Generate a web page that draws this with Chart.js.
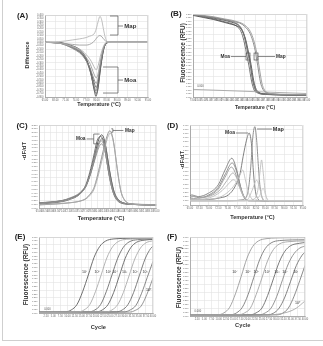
<!DOCTYPE html>
<html>
<head>
<meta charset="utf-8">
<script src="https://cdn.jsdelivr.net/npm/chart.js@4.4.1/dist/chart.umd.min.js"></script>
<style>
  body { margin: 0; background: #fff; }
  #fig { position: relative; width: 323px; height: 346px; overflow: hidden; }
  #fig canvas { position: absolute; }
  .frame { position: absolute; left: 2px; top: -1px; width: 330px; height: 341px;
           border-left: 1px solid #cfcfcf; border-bottom: 1px solid #cfcfcf; }
</style>
</head>
<body>
<div id="fig">
  <div class="frame"></div>
  <canvas id="pA" width="161" height="114" style="left:0;top:0"></canvas>
  <canvas id="pB" width="162" height="114" style="left:161px;top:0"></canvas>
  <canvas id="pC" width="161" height="116" style="left:0;top:114px"></canvas>
  <canvas id="pD" width="162" height="116" style="left:161px;top:114px"></canvas>
  <canvas id="pE" width="161" height="116" style="left:0;top:230px"></canvas>
  <canvas id="pF" width="162" height="116" style="left:161px;top:230px"></canvas>
</div>
<script>
const FONT = '"Liberation Sans", Arial, sans-serif';

// ---- (A) difference plot, [temperature, difference]
const aTempTicks = [65, 68, 71, 74, 77, 80, 83, 86, 89, 92, 95];
const aDiffTicks = [-0.8, -0.75, -0.7, -0.65, -0.6, -0.55, -0.5, -0.45, -0.4, -0.35, -0.3, -0.25, -0.2,
  -0.15, -0.1, -0.05, 0, 0.05, 0.1, 0.15, 0.2, 0.25, 0.3, 0.35, 0.4];
const aMoa1 = [[65,0],[69,0],[71,-0.02],[73,-0.05],[75,-0.1],[76,-0.15],[77,-0.23],[78,-0.38],[78.5,-0.48],[79,-0.62],[79.5,-0.74],[79.8,-0.79],[80.2,-0.74],[80.6,-0.62],[81,-0.45],[81.5,-0.27],[82,-0.12],[82.5,-0.04],[83,-0.01],[84,0],[95,0]];
const aMoa2 = [[65,0],[69,-0.005],[71,-0.03],[73,-0.07],[75,-0.12],[76,-0.17],[77,-0.25],[78,-0.39],[78.5,-0.49],[79,-0.61],[79.5,-0.71],[79.9,-0.75],[80.3,-0.7],[80.7,-0.57],[81.1,-0.4],[81.6,-0.23],[82.1,-0.1],[82.6,-0.03],[83.2,0],[95,0]];
const aMoa3 = [[65,0],[69,-0.01],[71,-0.04],[73,-0.08],[75,-0.14],[76,-0.19],[77,-0.27],[78,-0.4],[78.5,-0.49],[79,-0.59],[79.5,-0.67],[79.8,-0.71],[80.2,-0.67],[80.6,-0.55],[81,-0.39],[81.5,-0.22],[82,-0.1],[82.5,-0.03],[83,0],[95,0]];
const aMoa4 = [[65,0],[69,-0.01],[71,-0.03],[73,-0.07],[75,-0.13],[76,-0.18],[77,-0.26],[78,-0.37],[78.5,-0.45],[79,-0.54],[79.5,-0.62],[79.9,-0.66],[80.3,-0.62],[80.7,-0.51],[81.1,-0.36],[81.6,-0.21],[82.1,-0.09],[82.6,-0.03],[83.2,0],[95,0]];
const aMoa5 = [[65,0],[69,-0.01],[71,-0.04],[73,-0.09],[75,-0.15],[76,-0.2],[77,-0.27],[78,-0.36],[78.5,-0.43],[79,-0.5],[79.5,-0.57],[79.9,-0.6],[80.3,-0.56],[80.7,-0.46],[81.1,-0.33],[81.6,-0.19],[82.1,-0.08],[82.6,-0.02],[83.2,0],[95,0]];
const aMoa6 = [[65,0],[69,-0.01],[71,-0.03],[73,-0.07],[75,-0.12],[76,-0.16],[77,-0.22],[78,-0.3],[78.5,-0.36],[79,-0.43],[79.5,-0.49],[79.9,-0.52],[80.3,-0.49],[80.7,-0.4],[81.1,-0.29],[81.6,-0.16],[82.1,-0.07],[82.6,-0.02],[83.2,0],[95,0]];
const aMoa7 = [[65,0],[69,-0.01],[71,-0.03],[73,-0.06],[75,-0.1],[76,-0.13],[77,-0.18],[78,-0.24],[78.5,-0.28],[79,-0.33],[79.5,-0.38],[79.9,-0.4],[80.3,-0.37],[80.7,-0.3],[81.1,-0.21],[81.6,-0.12],[82.1,-0.05],[82.6,-0.01],[83.2,0],[95,0]];
const aMap1 = [[65,0],[67,0.005],[69,0.01],[71,0.02],[73,0.035],[75,0.05],[77,0.07],[78,0.09],[79,0.11],[79.5,0.14],[80,0.21],[80.5,0.31],[81,0.38],[81.5,0.33],[82,0.2],[82.5,0.08],[83,0.02],[84,0],[95,0]];
const aMap2 = [[65,0],[69,-0.01],[73,-0.03],[75,-0.04],[77,-0.04],[78,-0.03],[79,0],[79.7,0.04],[80.3,0.08],[81,0.1],[81.6,0.08],[82.2,0.04],[83,0.01],[84,0],[95,0]];

// ---- (B) melt curves, [temperature, RFU]
const bTempTicks = [73, 74, 75, 76, 77, 78, 79, 80, 81, 82, 83, 84, 85, 86, 87, 88, 89, 90, 91, 92, 93, 94, 95];
const bRfuTicks = [0, 0.05, 0.1, 0.15, 0.2, 0.25, 0.3, 0.35, 0.4, 0.45, 0.5, 0.55, 0.6, 0.65, 0.7, 0.75,
  0.8, 0.85, 0.9, 0.95, 1, 1.05, 1.1, 1.15, 1.2];
const bMoa1 = [[73,1.19],[75,1.17],[77,1.14],[79,1.11],[80.5,1.08],[81.5,1.05],[82,1.02],[82.5,0.96],[83,0.85],[83.5,0.67],[84,0.49],[84.5,0.25],[85,0.11],[85.5,0.07],[86,0.05],[87,0.04],[90,0.03],[95,0.025]];
const bMoa2 = [[73,1.19],[75,1.16],[77,1.13],[79,1.09],[80.5,1.06],[81.3,1.03],[81.8,1],[82.3,0.94],[82.8,0.82],[83.3,0.64],[83.8,0.45],[84.3,0.23],[84.8,0.1],[85.3,0.065],[86,0.045],[87,0.04],[90,0.03],[95,0.025]];
const bMoa3 = [[73,1.18],[75,1.15],[77,1.12],[79,1.08],[80.5,1.05],[81.7,1.02],[82.2,0.99],[82.7,0.93],[83.2,0.82],[83.7,0.65],[84.2,0.47],[84.7,0.24],[85.2,0.11],[85.7,0.07],[86.2,0.05],[87,0.045],[90,0.035],[95,0.03]];
const bMoa4 = [[73,1.19],[75,1.17],[77,1.15],[79,1.12],[80.5,1.09],[81.5,1.06],[82.1,1.02],[82.6,0.95],[83.1,0.83],[83.6,0.65],[84.1,0.46],[84.6,0.23],[85.1,0.1],[85.6,0.06],[86.2,0.045],[90,0.03],[95,0.025]];
const bMap1 = [[73,1.19],[75,1.17],[77,1.15],[79,1.12],[80.5,1.1],[81.5,1.08],[82,1.07],[82.5,1.05],[83,1.02],[83.5,0.98],[84,0.92],[84.5,0.82],[85,0.67],[85.5,0.45],[86,0.22],[86.5,0.11],[87,0.07],[87.5,0.05],[88,0.045],[90,0.035],[95,0.03]];
const bMap2 = [[73,1.19],[75,1.18],[77,1.16],[79,1.13],[80.5,1.11],[81.5,1.09],[82.3,1.07],[82.8,1.05],[83.3,1.02],[83.8,0.98],[84.3,0.91],[84.8,0.8],[85.3,0.64],[85.8,0.42],[86.3,0.2],[86.8,0.1],[87.3,0.065],[88,0.05],[90,0.04],[95,0.035]];
const bLow = [[73,0.11],[95,0.05]];

// ---- (C) derivative melt peaks, [temperature, -dF/dT]
const cTempTicks = [65, 66.5, 68, 69.5, 71, 72.5, 74, 75.5, 77, 78.5, 80, 81.5, 83, 84.5, 86, 87.5, 89, 90.5, 92, 93.5, 95];
const cRateTicks = [0, 0.1, 0.2, 0.3, 0.4, 0.5, 0.6, 0.7, 0.8, 0.9, 1, 1.1, 1.2, 1.3, 1.4, 1.5, 1.6, 1.7, 1.8, 1.9, 2, 2.1, 2.2];
const cMoa1 = [[65,0.12],[68,0.15],[71,0.19],[73,0.25],[75,0.34],[76,0.43],[77,0.58],[78,0.88],[79,1.28],[80,1.72],[80.5,1.87],[81,1.94],[81.5,1.88],[82,1.68],[82.5,1.35],[83,1.02],[83.5,0.74],[84,0.5],[84.5,0.34],[85,0.24],[86,0.16],[87,0.12],[90,0.09],[95,0.08]];
const cMoa2 = [[65,0.1],[68,0.13],[71,0.17],[73,0.23],[75,0.33],[76,0.44],[77,0.62],[78,0.95],[79,1.38],[79.8,1.76],[80.3,1.87],[80.8,1.9],[81.3,1.82],[81.8,1.6],[82.3,1.28],[82.8,0.95],[83.3,0.68],[83.8,0.47],[84.3,0.32],[85,0.2],[86,0.13],[88,0.1],[95,0.08]];
const cMoa3 = [[65,0.14],[68,0.16],[71,0.2],[73,0.26],[75,0.35],[76,0.44],[77,0.57],[78,0.84],[79,1.2],[80,1.62],[80.7,1.8],[81.2,1.84],[81.7,1.76],[82.2,1.55],[82.7,1.22],[83.2,0.9],[83.7,0.64],[84.2,0.44],[84.8,0.3],[85.5,0.2],[86.5,0.14],[88,0.11],[95,0.09]];
const cMoa4 = [[65,0.11],[68,0.14],[71,0.18],[73,0.24],[75,0.33],[76,0.42],[77,0.58],[78,0.86],[79,1.24],[80,1.6],[80.5,1.72],[80.9,1.78],[81.4,1.72],[81.9,1.52],[82.4,1.2],[82.9,0.9],[83.4,0.64],[83.9,0.44],[84.5,0.3],[85.2,0.2],[86.2,0.14],[88,0.1],[95,0.08]];
const cMoa5 = [[65,0.13],[68,0.16],[71,0.2],[73,0.27],[75,0.37],[76,0.46],[77,0.6],[78,0.85],[79,1.18],[80,1.52],[80.5,1.65],[81,1.7],[81.5,1.63],[82,1.45],[82.5,1.16],[83,0.86],[83.5,0.62],[84,0.43],[84.6,0.29],[85.3,0.2],[86.3,0.14],[88,0.1],[95,0.09]];
const cMap1 = [[65,0.08],[68,0.1],[71,0.12],[73,0.14],[75,0.17],[76,0.2],[77,0.25],[78,0.36],[79,0.52],[79.5,0.68],[80,0.88],[80.5,1.1],[81,1.33],[81.5,1.55],[82,1.76],[82.5,1.93],[83,2.04],[83.5,2],[84,1.8],[84.5,1.45],[85,1.05],[85.5,0.7],[86,0.42],[87,0.2],[88,0.12],[90,0.09],[95,0.07]];
const cMap2 = [[65,0.09],[70,0.11],[73,0.14],[75,0.17],[77,0.24],[78,0.33],[79,0.48],[80,0.8],[81,1.22],[82,1.65],[82.6,1.88],[83.2,1.98],[83.7,1.9],[84.2,1.65],[84.7,1.28],[85.2,0.9],[85.8,0.52],[86.5,0.28],[87.5,0.14],[89,0.1],[95,0.08]];

// ---- (D) derivative melt peaks, second set
const dTempTicks = [65, 67.5, 70, 72.5, 75, 77.5, 80, 82.5, 85, 87.5, 90, 92.5, 95];
const dRateTicks = [0, 0.1, 0.2, 0.3, 0.4, 0.5, 0.6, 0.7, 0.8, 0.9, 1, 1.1, 1.2, 1.3, 1.4, 1.5, 1.6, 1.7, 1.8, 1.9];
const dMoaTall = [[65,0.12],[70,0.13],[73,0.17],[75.2,0.24],[76.9,0.43],[78.3,0.75],[79.1,1.15],[80,1.54],[80.7,1.71],[81.4,1.38],[81.8,0.83],[82.2,0.43],[82.9,0.16],[84,0.1],[95,0.1]];
const dMap = [[65,0.1],[76,0.1],[78.5,0.12],[80,0.2],[80.6,0.43],[81.2,0.99],[81.6,1.54],[82.2,1.86],[82.7,1.54],[83.1,0.99],[83.6,0.43],[84.2,0.16],[85,0.1],[95,0.1]];
const dBroad1 = [[65,0.22],[65.5,0.24],[66.5,0.21],[67.2,0.2],[69.9,0.28],[72.5,0.48],[74.3,0.83],[76.1,1.11],[77.4,0.83],[78.3,0.48],[79.1,0.24],[80,0.12],[81,0.1],[95,0.1]];
const dBroad2 = [[65,0.18],[66,0.2],[67.5,0.17],[70,0.24],[72.5,0.42],[74.4,0.74],[76.2,1],[77.5,0.76],[78.4,0.44],[79.2,0.22],[80.1,0.12],[81,0.1],[95,0.1]];
const dBroad3 = [[65,0.15],[67,0.16],[70,0.22],[72.5,0.38],[74.3,0.66],[76,0.9],[77.3,0.7],[78.3,0.4],[79.2,0.2],[80.2,0.11],[95,0.1]];
const dBroad4 = [[65,0.2],[66,0.22],[68,0.18],[70.5,0.22],[73,0.36],[74.8,0.58],[76.4,0.76],[77.6,0.6],[78.6,0.36],[79.5,0.18],[80.5,0.11],[95,0.1]];
const dBroad5 = [[65,0.14],[68,0.14],[71,0.2],[73.5,0.34],[75.2,0.5],[76.5,0.6],[77.8,0.48],[78.8,0.28],[79.7,0.15],[80.7,0.1],[95,0.1]];
const dFaint1 = [[65,0.1],[80,0.1],[82,0.14],[83,0.35],[83.6,0.8],[84,1.07],[84.4,0.8],[85,0.3],[85.6,0.12],[86.5,0.1],[95,0.1]];
const dFaint2 = [[65,0.1],[79,0.1],[80.5,0.15],[81.5,0.35],[82.7,0.59],[83.5,0.4],[84.2,0.18],[85,0.1],[95,0.1]];
const dFaint3 = [[65,0.12],[72,0.16],[75,0.3],[77,0.5],[78.3,0.72],[79,0.83],[79.7,0.6],[80.5,0.3],[81.5,0.14],[82.5,0.1],[95,0.1]];
const dFaint4 = [[65,0.1],[82,0.1],[83.5,0.22],[84.4,0.4],[85.2,0.2],[86,0.1],[95,0.1]];

// ---- (E) amplification, [cycle, RFU]
const cycleTicks = [2.5, 5, 7.5, 10, 12.5, 15, 17.5, 20, 22.5, 25, 27.5, 30, 32.5, 35, 37.5, 40];
const rfuTicks = [0, 0.05, 0.1, 0.15, 0.2, 0.25, 0.3, 0.35, 0.4, 0.45, 0.5, 0.55, 0.6, 0.65, 0.7, 0.75, 0.8, 0.85, 0.9, 0.95, 1];
const copyLabels = ['10\u2077', '10\u2076', '10\u2075', '10\u2074', '10\u00b3', '10\u00b2', '10\u00b9', '10\u2070'];
const eAmp1 = [[0,0.01],[9.3,0.015],[11.3,0.04],[13.3,0.11],[15.3,0.28],[17.3,0.5],[19.3,0.73],[21.3,0.875],[23.3,0.945],[26.3,0.975],[32,0.983],[40,0.985]];
const eAmp2 = [[0,0.01],[13.8,0.015],[15.8,0.04],[17.8,0.11],[19.8,0.28],[21.8,0.5],[23.8,0.725],[25.8,0.87],[27.8,0.94],[30.8,0.97],[40,0.98]];
const eAmp3 = [[0,0.01],[17.6,0.015],[19.6,0.04],[21.6,0.11],[23.6,0.28],[25.6,0.5],[27.6,0.72],[29.6,0.865],[31.6,0.935],[34.6,0.965],[40,0.975]];
const eAmp4 = [[0,0.01],[20.2,0.015],[22.2,0.04],[24.2,0.11],[26.2,0.27],[28.2,0.49],[30.2,0.715],[32.2,0.86],[34.2,0.93],[37.2,0.96],[40,0.968]];
const eAmp5 = [[0,0.01],[23.6,0.015],[25.6,0.04],[27.6,0.11],[29.6,0.27],[31.6,0.49],[33.6,0.71],[35.6,0.855],[37.6,0.925],[40,0.95]];
const eAmp6 = [[0,0.01],[27.2,0.015],[29.2,0.04],[31.2,0.11],[33.2,0.27],[35.2,0.49],[37.2,0.71],[39.2,0.85],[40,0.88]];
const eAmp7 = [[0,0.01],[30,0.015],[32,0.04],[34,0.1],[36,0.26],[38,0.47],[40,0.68]];
const eAmp8 = [[0,0.01],[31.8,0.012],[33.8,0.035],[35.8,0.09],[37.8,0.24],[39.8,0.44],[40,0.46]];
const eLabelCycle = [16.0, 20.4, 24.4, 26.7, 30.0, 33.7, 37.2, 38.4];
const eLabelRfu = [0.54, 0.54, 0.54, 0.54, 0.54, 0.54, 0.54, 0.3];

// ---- (F) amplification, second assay
const fAmp1 = [[0,0.01],[9.8,0.015],[11.8,0.04],[13.8,0.11],[15.8,0.28],[17.8,0.5],[19.8,0.73],[21.8,0.88],[23.8,0.95],[26.8,0.98],[33,0.99],[40,0.992]];
const fAmp2 = [[0,0.01],[14.2,0.015],[16.2,0.04],[18.2,0.11],[20.2,0.27],[22.2,0.49],[24.2,0.71],[26.2,0.855],[28.2,0.925],[31.2,0.955],[40,0.965]];
const fAmp3 = [[0,0.01],[17,0.015],[19,0.04],[21,0.1],[23,0.27],[25,0.48],[27,0.7],[29,0.84],[31,0.91],[34,0.94],[40,0.95]];
const fAmp4 = [[0,0.01],[21,0.015],[23,0.04],[25,0.1],[27,0.26],[29,0.47],[31,0.68],[33,0.82],[35,0.89],[38,0.92],[40,0.93]];
const fAmp5 = [[0,0.01],[24.2,0.015],[26.2,0.04],[28.2,0.1],[30.2,0.25],[32.2,0.46],[34.2,0.66],[36.2,0.79],[38.2,0.86],[40,0.885]];
const fAmp6 = [[0,0.01],[27,0.015],[29,0.035],[31,0.1],[33,0.24],[35,0.44],[37,0.64],[39,0.77],[40,0.81]];
const fAmp7 = [[0,0.01],[30.2,0.015],[32.2,0.035],[34.2,0.1],[36.2,0.25],[38.2,0.45],[40,0.64]];
const fAmp8 = [[0,0.01],[26,0.012],[30,0.02],[34,0.05],[37,0.1],[40,0.19]];
const fLabelCycle = [15.6, 20.2, 23.0, 27.0, 30.2, 33.0, 36.8, 37.4];
const fLabelRfu = [0.56, 0.56, 0.56, 0.56, 0.56, 0.56, 0.56, 0.16];

function trace(points, color, width) {
  return {
    data: points.map(p => ({ x: p[0], y: p[1] })),
    borderColor: color,
    borderWidth: width || 0.9,
    pointRadius: 0,
    cubicInterpolationMode: 'monotone',
    fill: false
  };
}

// text, brackets and boxes drawn over the plot; callout coordinates are in data units
function decorations(d) {
  return {
    id: 'decorations',
    afterDraw(chart) {
      const ctx = chart.ctx, a = chart.chartArea;
      const px = v => chart.scales.x.getPixelForValue(v);
      const py = v => chart.scales.y.getPixelForValue(v);
      ctx.save();
      ctx.strokeStyle = '#d2d2d2';
      ctx.lineWidth = 0.8;
      ctx.beginPath();
      ctx.moveTo(a.left, a.top + 0.5);
      ctx.lineTo(a.right - 0.5, a.top + 0.5);
      ctx.lineTo(a.right - 0.5, a.bottom);
      ctx.stroke();

      ctx.fillStyle = '#222';
      ctx.textAlign = 'center';
      ctx.textBaseline = 'middle';
      ctx.font = 'bold 8px ' + FONT;
      ctx.fillText(d.label, d.labelAt[0], d.labelAt[1]);
      ctx.fillStyle = '#333';
      ctx.font = 'bold ' + d.xTitle[3] + 'px ' + FONT;
      ctx.fillText(d.xTitle[0], d.xTitle[1], d.xTitle[2]);
      ctx.save();
      ctx.translate(d.yTitle[1], d.yTitle[2]);
      ctx.rotate(-Math.PI / 2);
      ctx.font = 'bold ' + d.yTitle[3] + 'px ' + FONT;
      ctx.fillText(d.yTitle[0], 0, 0);
      ctx.restore();

      ctx.strokeStyle = '#555';
      ctx.lineWidth = 0.7;
      (d.lines || []).forEach(pts => {
        ctx.beginPath();
        pts.forEach((p, i) => i ? ctx.lineTo(px(p[0]), py(p[1])) : ctx.moveTo(px(p[0]), py(p[1])));
        ctx.stroke();
      });
      (d.boxes || []).forEach(b => {
        ctx.strokeRect(px(b[0]), py(b[1]), px(b[2]) - px(b[0]), py(b[3]) - py(b[1]));
      });
      (d.notes || []).forEach(n => {
        ctx.font = (n.bold ? 'bold ' : '') + n.size + 'px ' + FONT;
        ctx.textAlign = n.align || 'center';
        ctx.fillStyle = n.color || '#333';
        ctx.fillText(n.text, px(n.x), py(n.y));
      });
      ctx.restore();
    }
  };
}

function axis(ticks, min, max, fit, digits, gridEvery, horizontal, fontSize) {
  return {
    type: 'linear',
    min: min,
    max: max,
    afterBuildTicks: s => { s.ticks = ticks.map(v => ({ value: v })); },
    afterFit: s => { if (horizontal) s.height = fit; else s.width = fit; },
    ticks: {
      autoSkip: false, maxRotation: 0, minRotation: 0, padding: 1.5,
      color: '#666', font: { size: fontSize, family: FONT },
      callback: v => Number(v).toFixed(digits)
    },
    grid: {
      drawTicks: false,
      lineWidth: 0.6,
      color: c => (c.index % gridEvery === 0 ? '#e3e3e3' : 'rgba(0,0,0,0)')
    },
    border: { color: '#9a9a9a', width: 0.8 }
  };
}

function panel(id, p) {
  return new Chart(document.getElementById(id), {
    type: 'line',
    data: { datasets: p.datasets },
    options: {
      responsive: false,
      animation: false,
      devicePixelRatio: 1,
      layout: { padding: p.pad },
      plugins: { legend: { display: false }, tooltip: { enabled: false } },
      scales: {
        x: axis(p.xTicks, p.xRange[0], p.xRange[1], 6, 2, p.gridX, true, 2.6),
        y: axis(p.yTicks, p.yRange[0], p.yRange[1], p.yWidth, 3, p.gridY, false, p.yFont)
      }
    },
    plugins: [decorations(p.deco)]
  });
}

panel('pA', {
  pad: { left: 33, top: 15, right: 13, bottom: 11 }, yWidth: 12, yFont: 2.6,
  xTicks: aTempTicks, xRange: [65, 95], yTicks: aDiffTicks, yRange: [-0.8, 0.4], gridX: 1, gridY: 2,
  datasets: [
    trace(aMap1, '#b8b8b8'), trace(aMap2, '#a0a0a0'),
    trace(aMoa7, '#b0b0b0'), trace(aMoa6, '#9c9c9c'), trace(aMoa5, '#8a8a8a'),
    trace(aMoa4, '#5c5c5c'), trace(aMoa3, '#767676'), trace(aMoa2, '#666'), trace(aMoa1, '#555')
  ],
  deco: {
    label: '(A)', labelAt: [22.5, 15.5],
    xTitle: ['Temperature (\u00b0C)', 99, 104.5, 5.4],
    yTitle: ['Difference', 27, 55, 5.5],
    lines: [
      [[83.93, 0.385], [86.26, 0.385], [86.26, 0.107], [83.93, 0.107]],
      [[86.26, 0.239], [87.72, 0.239]],
      [[81.9, -0.361], [86.26, -0.361], [86.26, -0.742], [81.9, -0.742]],
      [[86.26, -0.552], [87.72, -0.552]]
    ],
    notes: [
      { text: 'Map', x: 88.1, y: 0.239, align: 'left', size: 6, bold: true },
      { text: 'Moa', x: 88.1, y: -0.552, align: 'left', size: 6, bold: true }
    ]
  }
});

panel('pB', {
  pad: { left: 24, top: 14, right: 16, bottom: 11 }, yWidth: 8, yFont: 2.2,
  xTicks: bTempTicks, xRange: [73, 95], yTicks: bRfuTicks, yRange: [0, 1.2], gridX: 2, gridY: 2,
  datasets: [
    trace(bLow, '#9a9a9a', 0.8),
    trace(bMap2, '#9a9a9a'), trace(bMap1, '#858585'),
    trace(bMoa4, '#777'), trace(bMoa3, '#4d4d4d'), trace(bMoa2, '#666'), trace(bMoa1, '#555')
  ],
  deco: {
    label: '(B)', labelAt: [15, 14],
    xTitle: ['Temperature (\u00b0C)', 94, 107.5, 5],
    yTitle: ['Fluorescence (RFU)', 22.5, 53, 6.3],
    boxes: [[83.23, 0.636, 84.0, 0.535], [84.78, 0.636, 85.55, 0.535]],
    lines: [[[80.3, 0.585], [83.23, 0.585]], [[85.55, 0.585], [88.83, 0.585]]],
    notes: [
      { text: 'Moa', x: 80.14, y: 0.585, align: 'right', size: 4.8, bold: true },
      { text: 'Map', x: 89.02, y: 0.585, align: 'left', size: 4.8, bold: true },
      { text: '0.000', x: 73.8, y: 0.15, align: 'left', size: 2.6, color: '#555' }
    ]
  }
});

panel('pC', {
  pad: { left: 29, top: 11, right: 4, bottom: 16 }, yWidth: 10, yFont: 2.4,
  xTicks: cTempTicks, xRange: [65, 95], yTicks: cRateTicks, yRange: [0, 2.2], gridX: 1, gridY: 2,
  datasets: [
    trace(cMap2, '#ababab'), trace(cMap1, '#8a8a8a'),
    trace(cMoa5, '#8c8c8c'), trace(cMoa4, '#9a9a9a'), trace(cMoa3, '#707070'),
    trace(cMoa2, '#606060'), trace(cMoa1, '#505050')
  ],
  deco: {
    label: '(C)', labelAt: [22, 11.5],
    xTitle: ['Temperature (\u00b0C)', 101, 104.5, 5.8],
    yTitle: ['-dF/dT', 24, 37, 6],
    lines: [
      [[77.2, 1.83], [79.0, 1.83]],
      [[80.5, 1.96], [79.0, 1.96], [79.0, 1.70], [80.3, 1.70]],
      [[83.5, 2.10], [83.9, 2.10], [83.9, 2.01], [83.5, 2.01]],
      [[83.9, 2.055], [86.6, 2.055]]
    ],
    notes: [
      { text: 'Moa', x: 76.9, y: 1.83, align: 'right', size: 4.8, bold: true },
      { text: 'Map', x: 87.0, y: 2.055, align: 'left', size: 4.8, bold: true }
    ]
  }
});

panel('pD', {
  pad: { left: 21, top: 11, right: 20, bottom: 19 }, yWidth: 8, yFont: 2.2,
  xTicks: dTempTicks, xRange: [65, 95], yTicks: dRateTicks, yRange: [0, 1.9], gridX: 1, gridY: 2,
  datasets: [
    trace(dFaint4, '#cccccc'), trace(dFaint2, '#c4c4c4'), trace(dFaint3, '#c0c0c0'), trace(dFaint1, '#bdbdbd'),
    trace(dBroad5, '#bbbbbb'), trace(dBroad4, '#a8a8a8'), trace(dBroad3, '#979797'),
    trace(dBroad2, '#8c8c8c'), trace(dBroad1, '#7d7d7d'),
    trace(dMap, '#858585'), trace(dMoaTall, '#747474')
  ],
  deco: {
    label: '(D)', labelAt: [11.5, 11.5],
    xTitle: ['Temperature (\u00b0C)', 91.5, 103.5, 5.5],
    yTitle: ['-dF/dT', 21, 46, 6],
    lines: [[[77.2, 1.71], [80.4, 1.71]], [[82.8, 1.805], [86.75, 1.805]]],
    notes: [
      { text: 'Moa', x: 76.94, y: 1.71, align: 'right', size: 5, bold: true },
      { text: 'Map', x: 87.0, y: 1.805, align: 'left', size: 5.5, bold: true }
    ]
  }
});

function copyNotes(xs, ys) {
  return copyLabels.map((t, i) => ({ text: t, x: xs[i], y: ys[i], size: 3.6, color: '#333' }));
}

panel('pE', {
  pad: { left: 31, top: 7, right: 8, bottom: 27 }, yWidth: 8, yFont: 2.2,
  xTicks: cycleTicks, xRange: [0, 40], yTicks: rfuTicks, yRange: [0, 1], gridX: 1, gridY: 2,
  datasets: [
    trace(eAmp5, '#ababab'), trace(eAmp2, '#ababab'),
    trace(eAmp8, '#8a8a8a'), trace(eAmp7, '#7a7a7a'), trace(eAmp6, '#707070'),
    trace(eAmp4, '#626262'), trace(eAmp3, '#6e6e6e'), trace(eAmp1, '#5e5e5e')
  ],
  deco: {
    label: '(E)', labelAt: [20, 7],
    xTitle: ['Cycle', 98.3, 97, 5.7],
    yTitle: ['Fluorescence (RFU)', 26, 44.5, 6.5],
    notes: copyNotes(eLabelCycle, eLabelRfu).concat([
      { text: '0.000', x: 1.8, y: 0.045, align: 'left', size: 2.6, color: '#555' }
    ])
  }
});

panel('pF', {
  pad: { left: 21, top: 7, right: 18, bottom: 24 }, yWidth: 8, yFont: 2.2,
  xTicks: cycleTicks, xRange: [0, 40], yTicks: rfuTicks, yRange: [0, 1], gridX: 1, gridY: 2,
  datasets: [
    trace(fAmp8, '#a8a8a8'), trace(fAmp3, '#a4a4a4'), trace(fAmp1, '#9a9a9a'),
    trace(fAmp7, '#7e7e7e'), trace(fAmp6, '#747474'), trace(fAmp5, '#8a8a8a'),
    trace(fAmp4, '#6c6c6c'), trace(fAmp2, '#7a7a7a')
  ],
  deco: {
    label: '(F)', labelAt: [11, 7],
    xTitle: ['Cycle', 81.7, 95.5, 5.7],
    yTitle: ['Fluorescence (RFU)', 18.5, 47.5, 6.5],
    notes: copyNotes(fLabelCycle, fLabelRfu).concat([
      { text: '0.000', x: 1.6, y: 0.055, align: 'left', size: 2.6, color: '#555' }
    ])
  }
});
</script>
</body>
</html>
